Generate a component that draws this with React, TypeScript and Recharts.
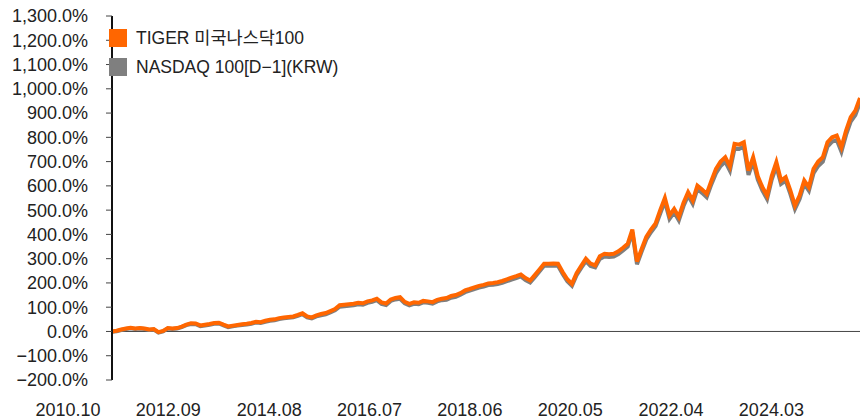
import React from "react";
import { LineChart, Line, XAxis, YAxis, ReferenceLine } from "recharts";

// monthly cumulative return (%), index 0 = 2010.10
const tiger = [
  0, 3, 8, 12, 15, 12, 14, 12, 8, 10, -3, 2, 14, 12, 14, 20, 28, 34, 33, 25,
  28, 31, 35, 36, 28, 21, 24, 27, 30, 32, 35, 40, 38, 44, 48, 50, 55, 58, 60, 62,
  68, 75, 62, 58, 66, 72, 76, 84, 92, 108, 110, 112, 114, 118, 116, 124, 128, 135, 120, 115,
  132, 138, 141, 122, 114, 120, 118, 126, 124, 121, 130, 135, 138, 146, 150, 158, 169, 175, 182, 188,
  192, 198, 200, 203, 208, 215, 222, 228, 235, 220, 210, 232, 255, 279, 279, 280, 279, 245, 215, 196,
  240, 270, 300, 280, 272, 310, 320, 318, 320, 330, 345, 361, 420, 288, 340, 390, 420, 445, 500, 550,
  478, 505, 472, 530, 574, 540, 601, 585, 567, 620, 670, 700, 718, 680, 773, 770, 780, 663, 718, 640,
  594, 560, 640, 698, 622, 636, 581, 519, 560, 622, 594, 670, 700, 718, 780, 800, 807, 759, 828, 883,
  910, 962,
];

const nasdaq = [
  -1, 1, 6, 10, 13, 10, 12, 10, 6, 8, -5, 0, 12, 10, 12, 18, 26, 31, 30, 22,
  25, 28, 32, 33, 25, 18, 21, 24, 27, 29, 32, 37, 35, 40, 44, 46, 51, 54, 56, 58,
  64, 71, 58, 54, 62, 67, 71, 79, 87, 102, 104, 106, 108, 112, 110, 118, 122, 129, 114, 109,
  126, 132, 135, 116, 108, 114, 112, 120, 118, 115, 124, 129, 131, 139, 143, 151, 162, 168, 175, 181,
  185, 191, 192, 195, 200, 207, 214, 220, 227, 212, 202, 224, 247, 271, 271, 272, 271, 237, 207, 188,
  232, 262, 290, 270, 264, 299, 309, 307, 309, 319, 334, 350, 409, 277, 329, 379, 409, 434, 486, 536,
  464, 491, 458, 516, 560, 526, 587, 571, 553, 606, 652, 682, 700, 662, 755, 752, 762, 645, 700, 626,
  580, 546, 626, 680, 608, 622, 567, 505, 546, 608, 580, 652, 682, 700, 762, 782, 789, 741, 810, 865,
  892, 944,
];

const xLabels = ["2010.10", "2012.09", "2014.08", "2016.07", "2018.06", "2020.05", "2022.04", "2024.03"];
const xTickPos = [0, 21.6, 43.3, 64.9, 86.5, 108.1, 129.8, 151.4];
const yTicks = [-200, -100, 0, 100, 200, 300, 400, 500, 600, 700, 800, 900, 1000, 1100, 1200, 1300];

const data = tiger.map((v, i) => ({ i, tiger: v, nasdaq: nasdaq[i] }));

const fmtPct = (v: number) => {
  const s = Math.abs(v).toLocaleString("en-US", { minimumFractionDigits: 1, maximumFractionDigits: 1 }) + "%";
  return v < 0 ? "\u2212" + s : s;
};

const XTick = (props: any) => {
  const { x, y, index } = props;
  return (
    <text x={x - 44} y={y + 36} textAnchor="middle" fontSize={18} fill="#222">
      {xLabels[index]}
    </text>
  );
};

export default function App() {
  const font = "'Liberation Sans', 'Noto Sans CJK KR', sans-serif";
  return (
    <div style={{ position: "absolute", left: 0, top: 0, width: 860, height: 420, fontFamily: font, background: "#fff" }}>
      <LineChart width={860} height={420} data={data} margin={{ top: 16, right: 0, bottom: 0, left: 0 }}>
        <XAxis
          type="number"
          dataKey="i"
          domain={[0, 161]}
          ticks={xTickPos}
          interval={0}
          axisLine={false}
          tickLine={false}
          tickSize={0}
          tickMargin={0}
          height={40}
          tick={<XTick />}
        />
        <YAxis
          type="number"
          domain={[-200, 1300]}
          ticks={yTicks}
          interval={0}
          width={112}
          tickFormatter={fmtPct}
          axisLine={{ stroke: "#111", strokeWidth: 2 }}
          tickLine={{ stroke: "#444" }}
          tickSize={6}
          tickMargin={18}
          tick={{ fill: "#222", fontSize: 18 }}
        />
        <ReferenceLine y={0} stroke="#444" strokeWidth={1} />
        <Line type="linear" dataKey="nasdaq" stroke="#7f7f7f" strokeWidth={4} dot={false} isAnimationActive={false} />
        <Line type="linear" dataKey="tiger" stroke="#ff6600" strokeWidth={4} dot={false} isAnimationActive={false} />
      </LineChart>
      <div style={{ position: "absolute", left: 109, top: 29, fontSize: 17.5, color: "#222", lineHeight: "18px" }}>
        <div style={{ display: "flex", alignItems: "center", marginBottom: 11 }}>
          <span style={{ width: 18, height: 18, background: "#ff6600", display: "inline-block", marginRight: 9 }} />
          <span>TIGER 미국나스닥100</span>
        </div>
        <div style={{ display: "flex", alignItems: "center" }}>
          <span style={{ width: 18, height: 18, background: "#7f7f7f", display: "inline-block", marginRight: 9 }} />
          <span>NASDAQ 100[D−1](KRW)</span>
        </div>
      </div>
    </div>
  );
}
